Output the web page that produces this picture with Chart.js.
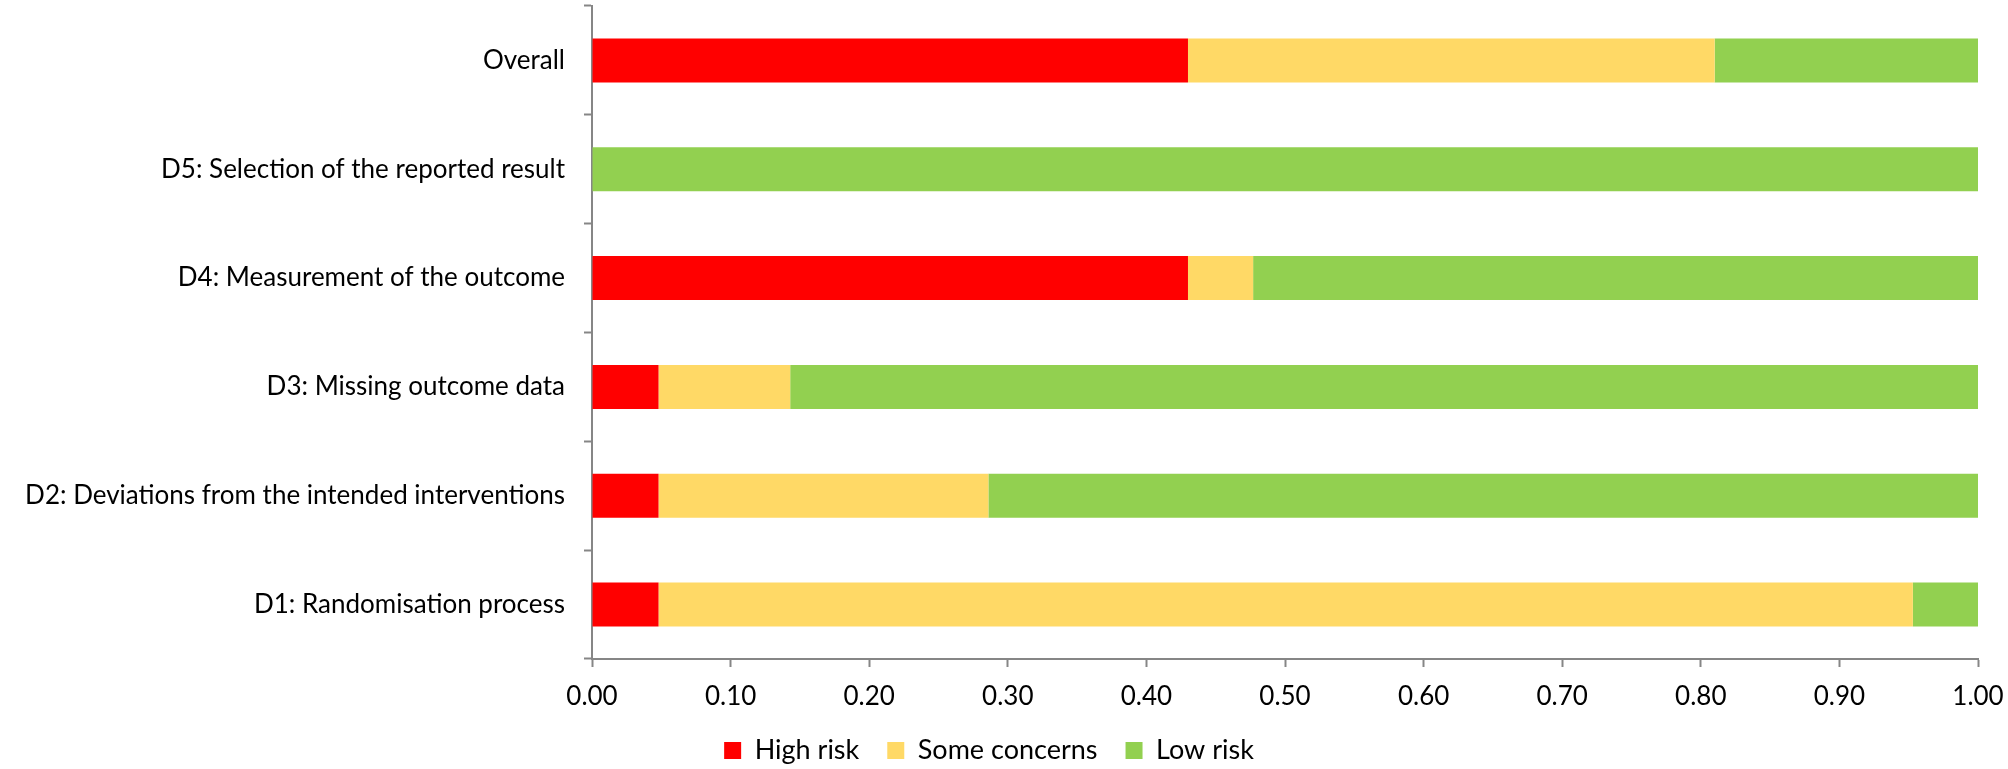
<!DOCTYPE html>
<html lang="en">
<head>
  <meta charset="UTF-8" />
  <title>Risk of bias summary</title>
  <script src="https://cdn.jsdelivr.net/npm/chart.js"></script>
  <style>
    body {
      margin: 0;
      padding: 0;
      background-color: #fff;
      overflow: hidden;
    }

    .chart-box {
      width: 2008px;
      height: 769px;
    }
  </style>
</head>
<body>

  <div class="chart-box">
    <canvas id="robChart"></canvas>
  </div>

  <script>
    // domains, top to bottom
    const domains = [
      'Overall',
      'D5: Selection of the reported result',
      'D4: Measurement of the outcome',
      'D3: Missing outcome data',
      'D2: Deviations from the intended interventions',
      'D1: Randomisation process'
    ];

    // proportion of studies per judgement
    const highRisk = [0.43, 0, 0.43, 0.048, 0.048, 0.048];
    const someConcerns = [0.38, 0, 0.047, 0.095, 0.238, 0.905];
    const lowRisk = [0.19, 1.0, 0.523, 0.857, 0.714, 0.047];

    const xTicks = [0, 0.1, 0.2, 0.3, 0.4, 0.5, 0.6, 0.7, 0.8, 0.9, 1.0];

    const fontFamily = "Lato, 'Open Sans', sans-serif";
    const axisGrey = '#868686';

    const ctx = document.getElementById('robChart').getContext('2d');

    new Chart(ctx, {
      type: 'bar',
      data: {
        labels: domains,
        datasets: [
          { label: 'High risk', data: highRisk, backgroundColor: '#FF0000' },
          { label: 'Some concerns', data: someConcerns, backgroundColor: '#FFD966' },
          { label: 'Low risk', data: lowRisk, backgroundColor: '#92D050' }
        ]
      },
      options: {
        indexAxis: 'y',
        responsive: true,
        maintainAspectRatio: false,
        animation: false,
        datasets: {
          bar: {
            barPercentage: 0.405,
            categoryPercentage: 1.0,
            borderWidth: 0
          }
        },
        layout: {
          padding: { top: 6, right: 30, left: 0, bottom: -5 }
        },
        plugins: {
          tooltip: { enabled: false },
          legend: {
            position: 'bottom',
            labels: {
              font: { family: fontFamily, size: 27 },
              color: '#000',
              boxWidth: 17,
              boxHeight: 17,
              padding: 28
            }
          }
        },
        scales: {
          x: {
            stacked: true,
            min: 0,
            max: 1,
            afterBuildTicks: (scale) => {
              scale.ticks = xTicks.map(v => ({ value: v }));
            },
            afterFit: (scale) => {
              scale.height = 50;
              scale.paddingLeft = 0;
              scale.paddingRight = 0;
            },
            ticks: {
              font: { family: fontFamily, size: 26 },
              color: '#000',
              padding: 14,
              callback: (value) => Number(value).toFixed(2)
            },
            grid: {
              drawOnChartArea: false,
              drawTicks: true,
              tickLength: 8,
              tickWidth: 2,
              color: axisGrey
            },
            border: { color: axisGrey, width: 2 }
          },
          y: {
            stacked: true,
            afterFit: (scale) => {
              scale.width = 592;
              scale.paddingTop = 0;
              scale.paddingBottom = 0;
            },
            ticks: {
              font: { family: fontFamily, size: 26 },
              color: '#000',
              padding: 19
            },
            grid: {
              offset: true,
              drawOnChartArea: false,
              drawTicks: true,
              tickLength: 8,
              tickWidth: 2,
              color: axisGrey
            },
            border: { color: axisGrey, width: 2 }
          }
        }
      }
    });
  </script>

</body>
</html>
